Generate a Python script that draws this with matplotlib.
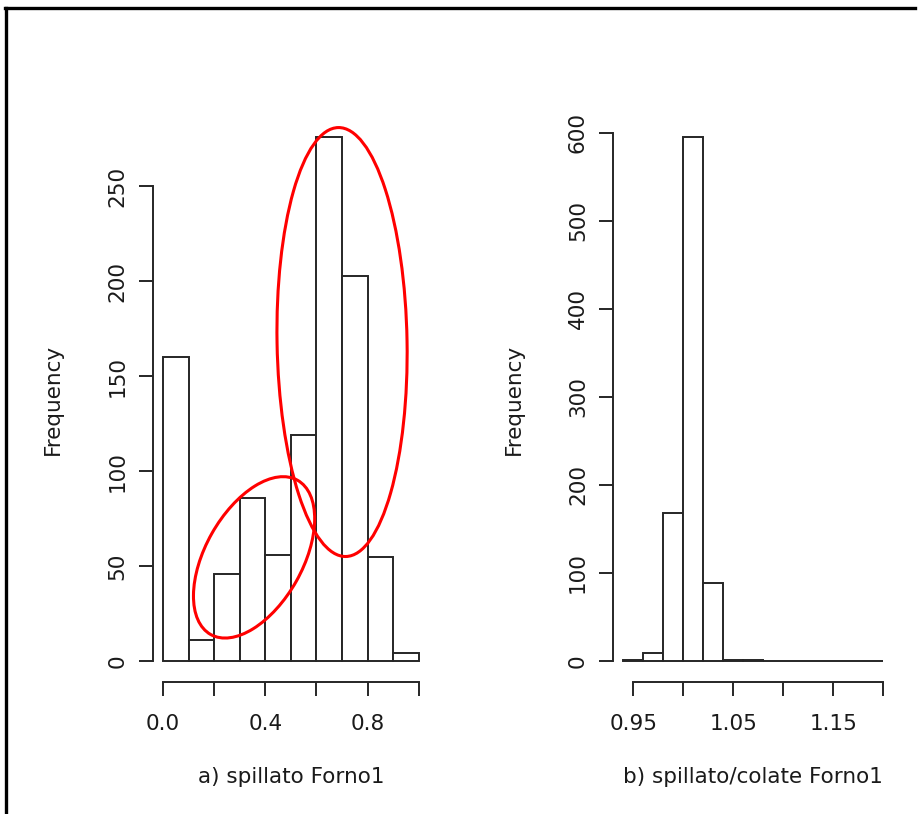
"""Histograms of tapping data for furnace 1, base-R style."""

import matplotlib.pyplot as plt
import matplotlib.transforms as mtransforms
import numpy as np
from matplotlib.lines import Line2D
from matplotlib.patches import Ellipse

plt.rcParams["font.family"] = ["DejaVu Sans"]

W, H, DPI = 920, 814, 100
INK = "#262626"
LW = 1.4
FONT = 15.5

# a) spillato Forno1
edges_a = [0.0, 0.1, 0.2, 0.3, 0.4, 0.5, 0.6, 0.7, 0.8, 0.9, 1.0]
counts_a = [160, 11, 46, 86, 56, 119, 276, 203, 55, 4]
xticks_a = [0.0, 0.2, 0.4, 0.6, 0.8, 1.0]
xlabels_a = ["0.0", "", "0.4", "", "0.8", ""]
yticks_a = [0, 50, 100, 150, 200, 250]
title_a = "a) spillato Forno1"

# b) spillato/colate Forno1
edges_b = [0.94, 0.96, 0.98, 1.00, 1.02, 1.04, 1.06, 1.08,
           1.10, 1.12, 1.14, 1.16, 1.18, 1.20]
counts_b = [1, 9, 168, 595, 89, 1, 1, 0, 0, 0, 0, 0, 0]
xticks_b = [0.95, 1.00, 1.05, 1.10, 1.15, 1.20]
xlabels_b = ["0.95", "", "1.05", "", "1.15", ""]
yticks_b = [0, 100, 200, 300, 400, 500, 600]
title_b = "b) spillato/colate Forno1"


def r_hist(ax, edges, counts, xticks, xlabels, yticks, xlabel):
    edges = np.asarray(edges, dtype=float)
    counts = np.asarray(counts, dtype=float)
    ax.bar(edges[:-1], counts, width=np.diff(edges), align="edge",
           facecolor="white", edgecolor=INK, linewidth=LW)

    # R pads both axes by 4% of the data range
    span = edges[-1] - edges[0]
    ax.set_xlim(edges[0] - 0.04 * span, edges[-1] + 0.04 * span)
    top = counts.max()
    ax.set_ylim(-0.04 * top, 1.04 * top)

    for side in ("top", "right"):
        ax.spines[side].set_visible(False)
    for side in ("left", "bottom"):
        ax.spines[side].set_linewidth(LW)
        ax.spines[side].set_color(INK)
    ax.spines["left"].set_bounds(yticks[0], yticks[-1])
    ax.spines["bottom"].set_bounds(xticks[0], xticks[-1])

    ax.set_xticks(xticks)
    ax.set_xticklabels(xlabels)
    ax.set_yticks(yticks)
    ax.set_yticklabels([str(v) for v in yticks], rotation=90, va="center")
    ax.tick_params(direction="out", length=10, width=LW, color=INK,
                   labelsize=FONT, labelcolor="#1a1a1a")
    ax.tick_params(axis="x", pad=13)
    ax.tick_params(axis="y", pad=8)
    ax.set_xlabel(xlabel, fontsize=FONT, labelpad=24, color="#1a1a1a")
    ax.set_ylabel("Frequency", fontsize=FONT, labelpad=32, color="#1a1a1a")
    ax.patch.set_visible(False)


fig = plt.figure(figsize=(W / DPI, H / DPI), dpi=DPI)
ax_a = fig.add_axes([152.8 / W, 132 / H, 276.2 / W, 566 / H])
ax_b = fig.add_axes([613.0 / W, 132 / H, 280.8 / W, 566 / H])

r_hist(ax_a, edges_a, counts_a, xticks_a, xlabels_a, yticks_a, title_a)
r_hist(ax_b, edges_b, counts_b, xticks_b, xlabels_b, yticks_b, title_b)

# hand-drawn red rings around the two groups in panel a
# (centre in data units, size in inches, angle in degrees)
rings = [
    ((0.70, 168), 1.30, 4.29, 1.0),
    ((0.356, 54.6), 1.77, 0.97, 60.6),
]
for (cx, cy), w, h, ang in rings:
    tr = fig.dpi_scale_trans + mtransforms.ScaledTranslation(cx, cy, ax_a.transData)
    ax_a.add_patch(Ellipse((0, 0), w, h, angle=ang, transform=tr,
                           fill=False, edgecolor="red", linewidth=2.2,
                           clip_on=False, zorder=5))

# frame on the top and left of the canvas
fig.add_artist(Line2D([5 / W, 915 / W], [1 - 8 / H, 1 - 8 / H],
                      transform=fig.transFigure, color="black", linewidth=2.4))
fig.add_artist(Line2D([6 / W, 6 / W], [0, 1 - 8 / H],
                      transform=fig.transFigure, color="black", linewidth=2.4))

fig.savefig("out.png", dpi=DPI)
plt.close(fig)
